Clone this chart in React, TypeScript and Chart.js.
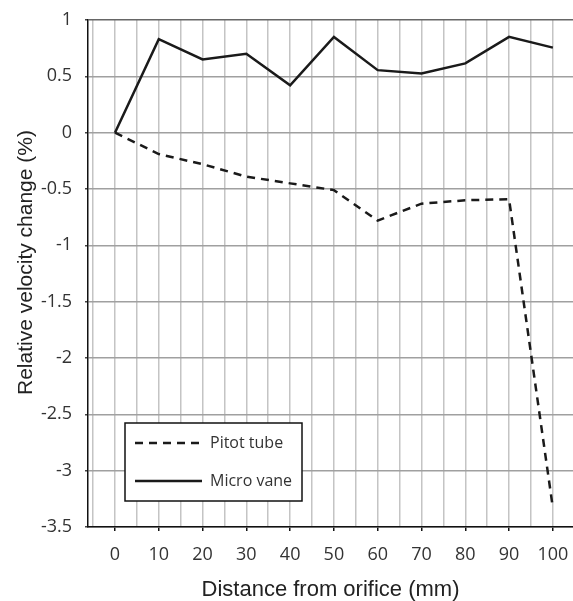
import React, { useEffect, useRef } from "react";
import { Chart, registerables } from "chart.js";

Chart.register(...registerables);

const distances = [0, 10, 20, 30, 40, 50, 60, 70, 80, 90, 100];
const pitotTube = [0, -0.19, -0.28, -0.39, -0.45, -0.51, -0.78, -0.63, -0.6, -0.59, -3.33];
const microVane = [0, 0.83, 0.65, 0.7, 0.42, 0.85, 0.555, 0.525, 0.615, 0.85, 0.755];
const xGridValues = [-5, 0, 5, 10, 15, 20, 25, 30, 35, 40, 45, 50, 55, 60, 65, 70, 75, 80, 85, 90, 95, 100];
const yTicks = [1, 0.5, 0, -0.5, -1, -1.5, -2, -2.5, -3, -3.5];
const seriesNames = ["Pitot tube", "Micro vane"];
const xTitle = "Distance from orifice (mm)";
const yTitle = "Relative velocity change (%)";

const TICK_FONT = "'Open Sans', 'Noto Sans', sans-serif";
const TITLE_FONT = "'Liberation Sans', Arial, sans-serif";

const legendPlugin = {
  id: "boxLegend",
  afterDraw(chart: any) {
    const { ctx, chartArea } = chart;
    const x = chartArea.left + 37;
    const y = chartArea.bottom - 104;
    const w = 177;
    const h = 78;
    ctx.save();
    ctx.fillStyle = "#fff";
    ctx.fillRect(x, y, w, h);
    ctx.strokeStyle = "#111";
    ctx.lineWidth = 1.5;
    ctx.strokeRect(x, y, w, h);
    ctx.lineWidth = 2.5;
    ctx.strokeStyle = "#1a1a1a";
    ctx.setLineDash([8, 6]);
    ctx.beginPath();
    ctx.moveTo(x + 10, y + 20);
    ctx.lineTo(x + 76, y + 20);
    ctx.stroke();
    ctx.setLineDash([]);
    ctx.beginPath();
    ctx.moveTo(x + 10, y + 58);
    ctx.lineTo(x + 77, y + 58);
    ctx.stroke();
    ctx.fillStyle = "#333";
    ctx.font = `16px ${TICK_FONT}`;
    ctx.textBaseline = "middle";
    ctx.textAlign = "left";
    ctx.fillText(seriesNames[0], x + 85, y + 20);
    ctx.fillText(seriesNames[1], x + 85, y + 58);

    // y-axis title, placed slightly above the plot's centre as in the reference
    ctx.save();
    ctx.translate(26, (chartArea.top + chartArea.bottom) / 2 - 11);
    ctx.rotate(-Math.PI / 2);
    ctx.fillStyle = "#222";
    ctx.font = `21px ${TITLE_FONT}`;
    ctx.textAlign = "center";
    ctx.textBaseline = "middle";
    ctx.fillText(yTitle, 0, 0);
    ctx.restore();
    ctx.restore();
  },
};

export default function App() {
  const ref = useRef<HTMLCanvasElement>(null);
  useEffect(() => {
    document.body.style.margin = "0";
    const canvas = ref.current!;
    const chart = new Chart(canvas, {
      type: "line",
      data: {
        datasets: [
          {
            label: seriesNames[0],
            data: distances.map((d, i) => ({ x: d, y: pitotTube[i] })),
            borderColor: "#1a1a1a",
            borderWidth: 2.5,
            borderDash: [8, 6],
            pointRadius: 0,
            tension: 0,
          },
          {
            label: seriesNames[1],
            data: distances.map((d, i) => ({ x: d, y: microVane[i] })),
            borderColor: "#1a1a1a",
            borderWidth: 2.5,
            pointRadius: 0,
            tension: 0,
          },
        ],
      },
      options: {
        animation: false,
        responsive: false,
        layout: { padding: { top: 20, right: 0, bottom: 0, left: 0 } },
        plugins: {
          legend: { display: false },
          tooltip: { enabled: false },
        },
        scales: {
          x: {
            type: "linear",
            min: -6.16,
            max: 104.6,
            afterBuildTicks: (scale: any) => {
              scale.ticks = xGridValues.map((v) => ({ value: v }));
            },
            afterFit: (scale: any) => {
              scale.height = 74;
              scale.paddingLeft = 0;
              scale.paddingRight = 0;
            },
            grid: {
              color: "#c4c4c4",
              lineWidth: 1.5,
              tickLength: 4,
              tickColor: (c: any) => (c.tick && c.tick.value % 10 === 0 ? "#111" : "rgba(0,0,0,0)"),
            },
            border: { color: "#111", width: 1.5 },
            ticks: {
              autoSkip: false,
              maxRotation: 0,
              padding: 13,
              color: "#333",
              font: { family: TICK_FONT, size: 18 },
              callback: (v: any) => (v % 10 === 0 ? String(v) : ""),
            },
            title: {
              display: true,
              text: xTitle,
              color: "#222",
              font: { family: TITLE_FONT, size: 22 },
              padding: { top: 0, bottom: -2 },
            },
          },
          y: {
            type: "linear",
            min: -3.5,
            max: 1,
            afterBuildTicks: (scale: any) => {
              scale.ticks = yTicks.map((v) => ({ value: v }));
            },
            afterFit: (scale: any) => {
              scale.width = 88;
              scale.paddingTop = 0;
              scale.paddingBottom = 0;
            },
            grid: {
              color: (c: any) => (c.tick && c.tick.value === 1 ? "#666" : "#a0a0a0"),
              lineWidth: 1.5,
              tickLength: 3,
              tickColor: "#444",
            },
            border: { color: "#111", width: 1.5 },
            ticks: {
              padding: 13,
              color: "#333",
              font: { family: TICK_FONT, size: 18 },
              callback: (v: any) => String(v),
            },
            title: { display: false },
          },
        },
      },
      plugins: [legendPlugin],
    });
    return () => chart.destroy();
  }, []);
  return <canvas ref={ref} width={573} height={601} style={{ display: "block" }} />;
}
